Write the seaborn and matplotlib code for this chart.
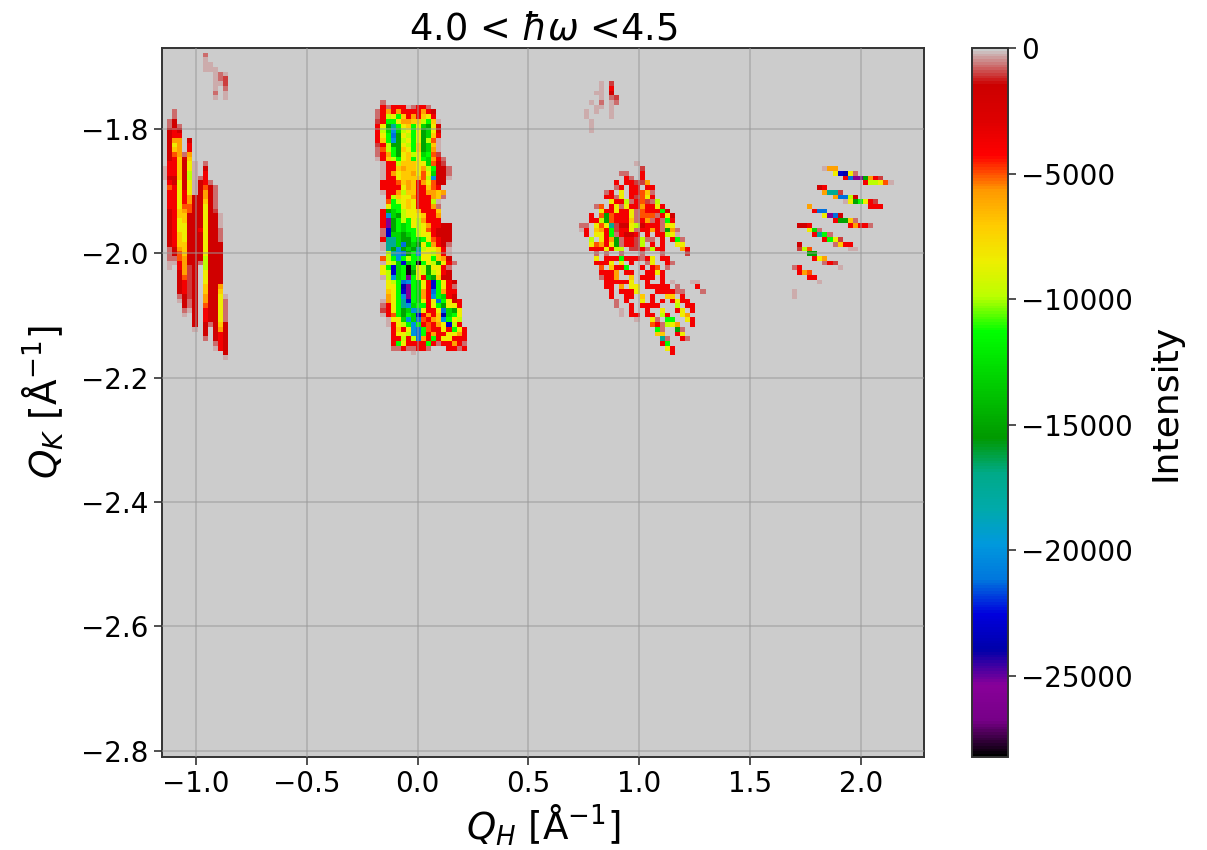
import numpy as np
import pandas as pd
import matplotlib
matplotlib.use("Agg")
import matplotlib.pyplot as plt
import seaborn as sns

# colour letters -> intensity
levels = {'.': 0, 'a': -250, 'b': -700, 'h': -1100, 'r': -1800, 'R': -3800, 'O': -5000,
          'o': -5900, 'm': -7000, 'y': -8400, 'l': -9900, 'g': -11300, 'e': -13000,
          'd': -15000, 't': -17500, 'c': -20000, 'A': -21200, 'B': -23000, 'n': -24000,
          'p': -25800, 'k': -28000}

n_bins = 150
qh_range = (-1.153, 2.284)
qk_range = (-1.67, -2.81)
vmin_i = -28230

xtick_vals = [-1.0, -0.5, 0.0, 0.5, 1.0, 1.5, 2.0]
ytick_vals = [-1.8, -2.0, -2.2, -2.4, -2.6, -2.8]
cbar_ticks = [0, -5000, -10000, -15000, -20000, -25000]

# left streak, stored by column: (column bin, first row bin, values)
left_cols = [
    (0, 25, "aaa"),
    (1, 15, "bbrrrrrrrRRRrRORRRRrrrrrrrrbbbaa"),
    (2, 13, "bbrrRRoymORRRRrrRRRRRRRRRRRRRrrba"),
    (3, 16, "brRoooommmmmyyyyyymmyyymmmoOORRrrrrrba"),
    (4, 22, "brrrrrrrRRROommyyyymmmooooORRRrrrba"),
    (5, 19, "rRRomyyllyyyooOOrrrrrrrrrrrhhhhhhhbba"),
    (6, 24, "aaaaaaarrrrrrrrrrrrrrrrrrrrrrrrrrrra"),
    (7, 27, "brrrrrrrrrrRrrrrrrb"),
    (8, 24, "brRRROoomyyyyyyyyyyylllyyymmooORRRrrrb"),
    (9, 28, "brrrrrrrrrrrrrrrrrrrrrrrrrrrrrb"),
    (10, 29, "bbbbbhrrrrrrrrrrrrrrrrrrrrrrrrrrrba"),
    (11, 35, "aaabbbrrrrrrrrromyyyyyymoRRRR"),
    (12, 52, "abbbbbrrrrrrra"),
]

# the rest stored by row, first column bin and first row bin given
top_left_col, top_left_row = 8, 1
top_left_rows = ["b", "a", "aa", "aaa", "..aba", "..abh", "..aah", "..a.b", "..b.a", "..a.a"]

middle_col, middle_row = 42, 11
middle_rows = [
    ".b", ".RbRRRabRRb", "bRoRoRRRRoRr", "bRlygmRoRmyR", "hRggyoommlgma", "Rydtgymgyedyr",
    "Rlecelygydeyr", "RygAdylgydemR", "RmgcdlygydlOa", "hRlddylgmdema", "bOlgdmygmdeoa",
    "bRogdymlyegOh", "aRmlgymgygeoRb", ".aRRlmmmyyeOrh", ".aRRmommyolgrrb", ".aRoymmoyOyerrb",
    ".aRRymmmmOlcrra", ".RRROmomRoyOrr", ".RRRRyomRRmOR", ".aRRolmmRRoomo", "..RlmyyoRRRomb",
    "..OglymyRRRla", "..yggymyRRRob", ".RdeglyymRRRm", ".RcedlyyymRRo", ".RpdglgyloRRR",
    ".RpdgegylyoRRrr", ".bBdgegglyORrrr", ".bBeedeglyyRrrr", ".RtteddgegyORrr", ".atteAdedygoRrb",
    ".atdcdedtlyymRa", "..ltcAdgcyylmRa", ".Olgcglggyygmor", ".ayleBegkgyldyRb", ".ygBegkeyldyyRb",
    ".ylBegkdyldlyRr", ".alcegpgyRedmrr", "..ylgAcgeyRBgyRr", "..yygnpgeyRBgyRb", "..mygBpgeoRAgoRR",
    "..oygcpgeoRcgeRr", ".aoygtBgeyRyAgyrR", ".bRygtceggRygdyyR", ".hRygdectyRRyAedy",
    ".aROgdgeBRoRmnegy", "..ayyeceAORomcgyl", "..aRylgcgRORoyBlR", "...RmRycAgORRyRgyR",
    "...RyylcAgRoRRyyoR", "...RRlRlAoRgRyyRRR", "...RgyRRRRgRbRRoRb", "...bbRbbRRb...RRbR",
    ".......a",
]

speck_col, speck_row = 83, 7
speck_rows = ["...a.h", "...a.R", "..aa.r", "...a.bh", ".a.b.ab", "..aa.a", "a.a..a", "a....a", ".a", ".a", ".a"]

right_col, right_row = 82, 24
right_rows = [
    "...........a", "............h", "........bb..R", ".........Rb.R", ".......R.RRhho",
    ".......bR.RR.RR", ".....bR.y.RROmb", ".....RRby.RhOyR", "......yRRlbROhbl", "...bO.RybyRRoRRyR",
    "....yRRyRRybORRRgr", "..R.OdORRRybOOObRyr", "..RRldORRRmbRobRbgR", "bb.yOythrrylrRRRbyy",
    "aR.moRghRRybRRoRbdob", ".R.yyRgbRrrR.R.RRlya", "..l.yRodbRRhlbb.R.Rgb", "..yOoRydbRRhl.R.R..yy",
    "..RRRyRll.hhRblRR...oR", "...b.b..b...b...b....h", "...y.RRRgRRRbRy.RR", "...RRRy.y.R..by..Rb",
    "....O.mRRg..R.RO.b", "....RRRo.RR..RRyR", "....bRRo..m.RRR.R", ".....RRRRRy..R..R.a...aa",
    ".....RR.o.yy.RRRRR.b...R", "......R.RRRy...RRRRbb...b", "......R..RR.m.R..mm.R",
    ".......b.R..y.R.R.RyRR", ".......b..R.RRRR...l.RR", "........a.R..R..y..Ry.R",
    "........a.RR.RR.lR..yo", "...........a..yb.gg..yR", "..............ORblyo..R",
    "...............gb..db", "...............mm..Ry", "................tb..Rb",
    "................Rg", ".................yR", "..................R",
]

far_col, far_row = 124, 25
far_rows = [
    "......aoo", "........yBnyb", "..........RAppdoRh", "..............RllyOa", ".....rR",
    "......otth", "........oAAlr", "..........aydgyRh", "...o...........RRR", "....RAA",
    "......ypAr", "........Rddmb", ".rrR.......RoRRb", "...yeb", "....Rtgb", "......Rgyh",
    ".r......bmRR", ".hlO.......aa", "...dd", "....Ryo", "......bRh", "bR.......a", ".RoO",
    "...RR", ".....a", "", "a", "a",
]

grid_vals = np.zeros((n_bins, n_bins))
for col, row0, vals in left_cols:
    for i, ch in enumerate(vals):
        grid_vals[row0 + i, col] = levels[ch]
for col0, row0, rows in [(top_left_col, top_left_row, top_left_rows), (middle_col, middle_row, middle_rows),
                         (speck_col, speck_row, speck_rows), (right_col, right_row, right_rows),
                         (far_col, far_row, far_rows)]:
    for j, line in enumerate(rows):
        for i, ch in enumerate(line):
            if ch != '.':
                grid_vals[row0 + j, col0 + i] = levels[ch]

df = pd.DataFrame(grid_vals)

W, H = 1207, 850
fig = plt.figure(figsize=(W / 100, H / 100), dpi=100)
ax = fig.add_axes([162 / W, 1 - 757 / H, 762 / W, 709 / H])
cax = fig.add_axes([972 / W, 1 - 757 / H, 36 / W, 709 / H])

sns.heatmap(df, ax=ax, cbar_ax=cax, cmap="nipy_spectral", vmin=vmin_i, vmax=0,
            xticklabels=False, yticklabels=False)

# heatmap works in bin numbers, so put the Q ticks where they fall in bins
ax.set_xticks([(v - qh_range[0]) / (qh_range[1] - qh_range[0]) * n_bins for v in xtick_vals])
ax.set_xticklabels(["\u2212%.1f" % abs(v) if v < 0 else "%.1f" % v for v in xtick_vals])
ax.set_yticks([(v - qk_range[0]) / (qk_range[1] - qk_range[0]) * n_bins for v in ytick_vals])
ax.set_yticklabels(["\u2212%.1f" % abs(v) for v in ytick_vals], rotation=0)
ax.tick_params(labelsize=20, length=6, width=1.2, color="#333333", bottom=True, left=True)

ax.set_axisbelow(False)
ax.grid(True, color="#999999", linewidth=1.4, alpha=0.5)
for s in ax.spines.values():
    s.set_visible(True)
    s.set_linewidth(1.4)
    s.set_color("#333333")

ax.set_title(r"4.0 < $\hbar\omega$ <4.5", fontsize=26.5, pad=6)
ax.set_xlabel(r"$Q_H$ [Å$^{-1}$]", fontsize=26.7, labelpad=3)
ax.set_ylabel(r"$Q_K$ [Å$^{-1}$]", fontsize=27, labelpad=11)

cb = ax.collections[0].colorbar
cb.set_ticks(cbar_ticks)
cb.set_ticklabels(["0"] + ["\u2212%d" % abs(v) for v in cbar_ticks[1:]])
cb.ax.tick_params(labelsize=20, length=6, width=1.2, color="#333333")
cb.outline.set_visible(True)
cb.outline.set_linewidth(1.4)
cb.outline.set_edgecolor("#333333")
cb.set_label("Intensity", fontsize=26, labelpad=11)

fig.savefig("out.png", dpi=100)
